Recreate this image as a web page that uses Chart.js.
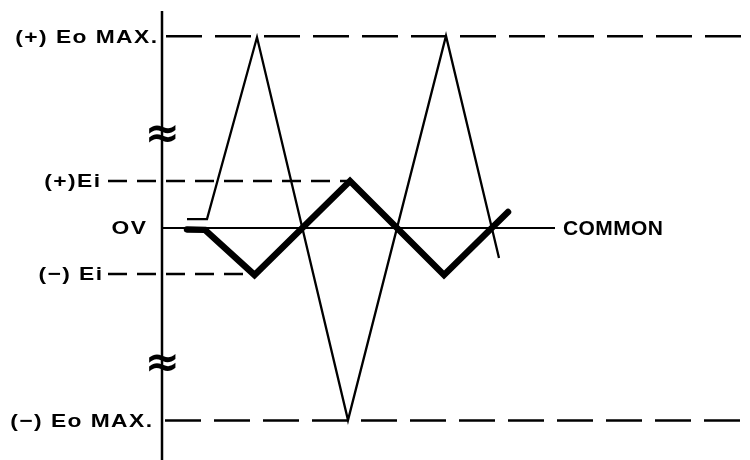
<!DOCTYPE html>
<html>
<head>
<meta charset="utf-8">
<script src="https://cdn.jsdelivr.net/npm/chart.js@4/dist/chart.umd.min.js"></script>
<style>
  body { margin: 0; background: #fff; }
  #wrap { width: 750px; height: 460px; }
</style>
</head>
<body>
<div id="wrap"><canvas id="waveChart" width="750" height="460"></canvas></div>
<script>
// time axis in arbitrary units from the vertical axis, voltage in units of Ei
const outputX = [2.5, 4.5, 9.5, 18.6, 28.4, 33.7]
const outputY = [0.19, 0.19, 4.06, -4.09, 4.09, -0.64]
const inputX = [2.5, 4.3, 9.25, 18.8, 28.2, 34.6]
const inputY = [-0.03, -0.04, -1.0, 1.0, -1.0, 0.34]

const levelNames = ['(+) Eo MAX.', '(+)Ei', 'OV', '(\u2212) Ei', '(\u2212) Eo MAX.']
const levelValues = [4.08, 1.0, 0, -0.98, -4.1]
const levelFrom = [0.4, -5.4, 0, -5.4, 0.3]
const levelTo = [58.8, 18.5, 39.3, 8.3, 58.8]
const commonLabel = 'COMMON'
const breakValues = [2.02, -2.85]
const axisRange = [4.62, -4.94]

const toPoints = (xs, ys) => xs.map((x, i) => ({ x: x, y: ys[i] }))

// label right edges, measured from the vertical axis in pixels
const labelGap = [5, 62, 16, 60, 10]
const dashStyles = [[36, 13], [19, 10], [], [19, 10], [36, 13]]
const stretch = 1.2

const levelDatasets = levelNames.map((name, i) => ({
    label: name,
    data: [{ x: levelFrom[i], y: levelValues[i] }, { x: levelTo[i], y: levelValues[i] }],
    borderColor: '#000',
    borderWidth: i === 2 ? 2 : 2.5,
    borderDash: dashStyles[i],
    showLine: true,
    pointRadius: 0,
    clip: false,
    order: 5
}))

const labelPlugin = {
    id: 'labels',
    afterDatasetsDraw(chart) {
        const ctx = chart.ctx
        const xs = chart.scales.x
        const ys = chart.scales.y
        const axisPx = xs.getPixelForValue(0)
        ctx.save()
        ctx.fillStyle = '#000'
        ctx.textBaseline = 'middle'
        ctx.font = 'bold 19px "Liberation Sans", Arial, sans-serif'
        ctx.letterSpacing = '1.2px'
        levelNames.forEach((name, i) => {
            const w = (ctx.measureText(name).width - 1.2) * stretch
            const left = axisPx - labelGap[i] - w
            ctx.save()
            ctx.translate(left, ys.getPixelForValue(levelValues[i]) + 1)
            ctx.scale(stretch, 1)
            ctx.fillText(name, 0, 0)
            ctx.restore()
        })
        ctx.font = 'bold 21px "Liberation Sans", Arial, sans-serif'
        ctx.letterSpacing = '0.4px'
        ctx.fillText(commonLabel, xs.getPixelForValue(levelTo[2]) + 8, ys.getPixelForValue(0) + 1)
        ctx.letterSpacing = '0px'
        ctx.textAlign = 'center'
        ctx.font = 'bold 42px "DejaVu Sans", sans-serif'
        breakValues.forEach(v => {
            ctx.fillText('\u2248', axisPx, ys.getPixelForValue(v) + 3)
        })
        ctx.restore()
    }
}

Chart.register(labelPlugin)

const chart = new Chart(document.getElementById('waveChart').getContext('2d'), {
    type: 'scatter',
    data: {
        datasets: [
            {
                label: 'Ei',
                data: toPoints(inputX, inputY),
                borderColor: '#000',
                borderWidth: 6.5,
                borderCapStyle: 'round',
                borderJoinStyle: 'miter',
                showLine: true,
                pointRadius: 0,
                clip: false,
                order: 1
            },
            {
                label: 'Eo',
                data: toPoints(outputX, outputY),
                borderColor: '#000',
                borderWidth: 2.3,
                borderJoinStyle: 'miter',
                showLine: true,
                pointRadius: 0,
                clip: false,
                order: 2
            },
            {
                label: 'axis',
                data: [{ x: 0, y: axisRange[0] }, { x: 0, y: axisRange[1] }],
                borderColor: '#000',
                borderWidth: 2.5,
                showLine: true,
                pointRadius: 0,
                clip: false,
                order: 3
            },
            ...levelDatasets
        ]
    },
    options: {
        responsive: false,
        animation: false,
        layout: { padding: { left: 162, top: 11, right: 0, bottom: 0 } },
        plugins: {
            legend: { display: false },
            tooltip: { enabled: false }
        },
        scales: {
            x: { type: 'linear', display: false, min: 0, max: 58.8 },
            y: { type: 'linear', display: false, min: -4.94, max: 4.62 }
        }
    }
})
</script>
</body>
</html>
